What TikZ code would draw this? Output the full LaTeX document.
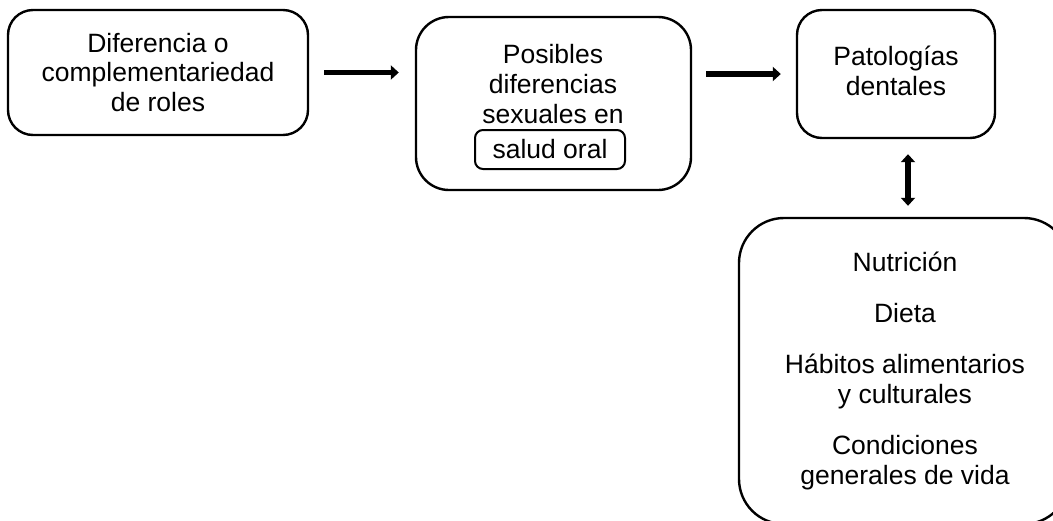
\documentclass[tikz,border=0pt]{standalone}
\usepackage{fontspec}
\setmainfont{Liberation Sans}
\usetikzlibrary{arrows.meta}
\begin{document}
\begin{tikzpicture}[x=1pt,y=-1pt,
  box/.style={draw=black, line width=2.4pt, align=center, inner sep=0pt,
    font=\fontsize{26.5pt}{29.5pt}\selectfont},
  txt/.style={align=center, inner sep=0pt, font=\fontsize{26.5pt}{30pt}\selectfont},
  arr/.style={line width=5.5pt, -{Triangle[length=8pt,width=14pt]}},
  darr/.style={line width=5.5pt, {Triangle[length=8pt,width=14pt]}-{Triangle[length=8pt,width=14pt]}}]
\useasboundingbox (0,0) rectangle (1053,520);
\clip (0,0) rectangle (1053,520);
\node[box, rounded corners=25pt, minimum width=300pt, minimum height=125pt] (b1) at (158,72.5)
  {Diferencia o\\complementariedad\\de roles};
\node[box, rounded corners=33pt, minimum width=275pt, minimum height=173pt] (b2) at (553.5,103.5) {};
\node[txt] (b2t) at (553,84) {Posibles\\diferencias\\sexuales en};
\node[draw=black, line width=2pt, rounded corners=8pt, minimum width=150pt, minimum height=39pt,
  inner sep=0pt, font=\fontsize{26.5pt}{30pt}\selectfont] (b2s) at (550,149.5) {salud oral};
\node[box, rounded corners=25pt, minimum width=198pt, minimum height=128pt] (b3) at (896,74) {};
\node[txt] (b3t) at (896,71) {Patologías\\dentales};
\node[box, rounded corners=45pt, minimum width=330pt, minimum height=306pt] (b4) at (904,371) {};
\node[txt] (b4t) at (905,370.5) {Nutrición\\[21pt]Dieta\\[21pt]Hábitos alimentarios\\y culturales\\[21pt]Condiciones\\generales de vida};
\draw[arr] ([xshift=15pt]b1.east) -- ([xshift=-16pt]b1.east -| b2.west);
\draw[arr] ([xshift=14pt]b2.east |- b3.west) -- ([xshift=-15pt]b3.west);
\draw[darr] ([xshift=12pt,yshift=-15pt]b3.south) -- ([xshift=4pt,yshift=11pt]b4.north);
\end{tikzpicture}
\end{document}
